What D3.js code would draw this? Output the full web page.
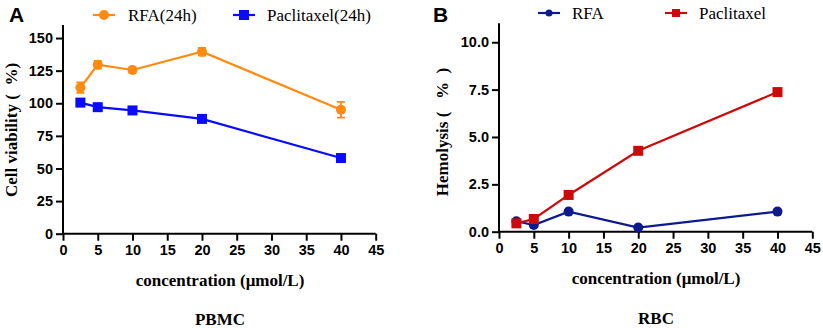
<!DOCTYPE html>
<html><head><meta charset="utf-8">
<script src="https://cdn.jsdelivr.net/npm/d3@7"></script>
<style>body{margin:0;background:#fff}svg{display:block}</style>
</head><body>
<svg id="c" width="823" height="328"></svg>
<script>
const concentrations = [2.5, 5, 10, 20, 40];
const xTicks = [0, 5, 10, 15, 20, 25, 30, 35, 40, 45];
// Panel A: PBMC cell viability (%)
const rfa24h = [112, 129.5, 125.5, 139.5, 95];
const rfa24hErr = [4, 3, 2, 3, 6];
const paclitaxel24h = [100.5, 97, 94.5, 88, 58];
const yTicksA = [0, 25, 50, 75, 100, 125, 150];
// Panel B: RBC hemolysis (%)
const rfaHemo = [0.55, 0.35, 1.06, 0.22, 1.06];
const paclitaxelHemo = [0.44, 0.67, 1.94, 4.27, 7.37];
const yTicksB = [0, 2.5, 5, 7.5, 10];

const svg = d3.select('#c');
const serif = '"Liberation Serif","Times New Roman",serif';
const sans = '"Liberation Sans",Arial,sans-serif';

function panel(o) {
  const g = svg.append('g');
  const x = d3.scaleLinear().domain([0, 45]).range([o.x0, o.x1]);
  const y = d3.scaleLinear().domain([0, o.ymax]).range([o.y0, o.y1]);
  const xa = g.append('g').attr('transform', `translate(0,${o.y0})`)
    .call(d3.axisBottom(x).tickValues(xTicks).tickSize(7).tickPadding(4).tickFormat(d3.format('d')));
  const ya = g.append('g').attr('transform', `translate(${o.x0},0)`)
    .call(d3.axisLeft(y).tickValues(o.yTicks).tickSize(7).tickPadding(3).tickFormat(o.fmt));
  [xa, ya].forEach(a => {
    a.select('.domain').attr('stroke', '#000').attr('stroke-width', 2);
    a.selectAll('.tick line').attr('stroke', '#000').attr('stroke-width', 2);
    a.selectAll('.tick text').attr('fill', '#000').style('font', `bold 14.5px ${sans}`);
  });
  xa.select('.domain').attr('d', `M${o.x0},0H${o.x1}`);
  ya.select('.domain').attr('d', `M0,${o.y0}V${o.y1}`);
  // series
  o.series.forEach(s => {
    const pts = concentrations.map((c, i) => [x(c), y(s.values[i])]);
    g.append('path').attr('d', d3.line()(pts)).attr('fill', 'none')
      .attr('stroke', s.color).attr('stroke-width', 2.2);
    if (s.err) {
      concentrations.forEach((c, i) => {
        const cx = x(c), lo = y(s.values[i] - s.err[i]), hi = y(s.values[i] + s.err[i]);
        g.append('path').attr('d', `M${cx},${lo}V${hi}M${cx-4},${lo}H${cx+4}M${cx-4},${hi}H${cx+4}`)
          .attr('stroke', s.color).attr('stroke-width', 1.8).attr('fill', 'none');
      });
    }
    pts.forEach(p => marker(g, s.shape, p[0], p[1], s.color));
  });
  // legend
  o.series.forEach(s => {
    const lx = s.lx, ly = o.ly;
    g.append('line').attr('x1', lx).attr('x2', lx + 22).attr('y1', ly).attr('y2', ly)
      .attr('stroke', s.color).attr('stroke-width', 2.2);
    marker(g, s.shape, lx + 11, ly, s.color, s.legendSmall);
    g.append('text').attr('x', s.tx).attr('y', ly).attr('dominant-baseline', 'central')
      .style('font', `17px ${serif}`).attr('fill', '#000').text(s.name);
  });
  // panel letter
  g.append('text').attr('x', o.lx).attr('y', 22).style('font', `bold 21px ${sans}`).text(o.letter);
  // titles
  g.append('text').attr('transform', `translate(${o.ytx},${o.yty}) rotate(-90)`)
    .attr('text-anchor', 'middle').attr('dominant-baseline', 'central')
    .style('font', `bold 17px ${serif}`).style('white-space', 'pre').text(o.ytitle);
  g.append('text').attr('x', o.xtx).attr('y', o.xty).attr('text-anchor', 'middle')
    .attr('dominant-baseline', 'central').style('font', `bold 17px ${serif}`).text('concentration (μmol/L)');
  g.append('text').attr('x', o.xtx).attr('y', o.bty).attr('text-anchor', 'middle')
    .attr('dominant-baseline', 'central').style('font', `bold 17px ${serif}`).text(o.bottom);
}
function marker(g, shape, cx, cy, color, small) {
  if (shape === 'circle') {
    g.append('circle').attr('cx', cx).attr('cy', cy).attr('r', small ? 3.5 : 5).attr('fill', color);
  } else {
    const h = small ? 4 : 5;
    g.append('rect').attr('x', cx - h).attr('y', cy - h).attr('width', 2 * h).attr('height', 2 * h).attr('fill', color);
  }
}

panel({
  x0: 63, x1: 375.7, y0: 233.7, y1: 25, ymax: 160, yTicks: yTicksA, fmt: d3.format('d'),
  ly: 15, lx: 9, letter: 'A', ytitle: 'Cell viability (  %)', ytx: 11, yty: 130,
  xtx: 220, xty: 280, bty: 319, bottom: 'PBMC',
  series: [
    {name: 'RFA(24h)', values: rfa24h, err: rfa24hErr, color: '#ff8a10', shape: 'circle', lx: 93, tx: 128},
    {name: 'Paclitaxel(24h)', values: paclitaxel24h, color: '#0a0aff', shape: 'square', lx: 233, tx: 267}
  ]
});
panel({
  x0: 499, x1: 812.3, y0: 231.7, y1: 23.3, ymax: 11, yTicks: yTicksB, fmt: d3.format('.1f'),
  ly: 13, lx: 433, letter: 'B', ytitle: 'Hemolysis (   %  )', ytx: 442, yty: 132,
  xtx: 656, xty: 278, bty: 318, bottom: 'RBC',
  series: [
    {name: 'RFA', values: rfaHemo, color: '#0c1a8e', shape: 'circle', lx: 538, tx: 572, legendSmall: true},
    {name: 'Paclitaxel', values: paclitaxelHemo, color: '#cc0a0a', shape: 'square', lx: 665, tx: 699, legendSmall: true}
  ]
});
</script>
</body></html>
